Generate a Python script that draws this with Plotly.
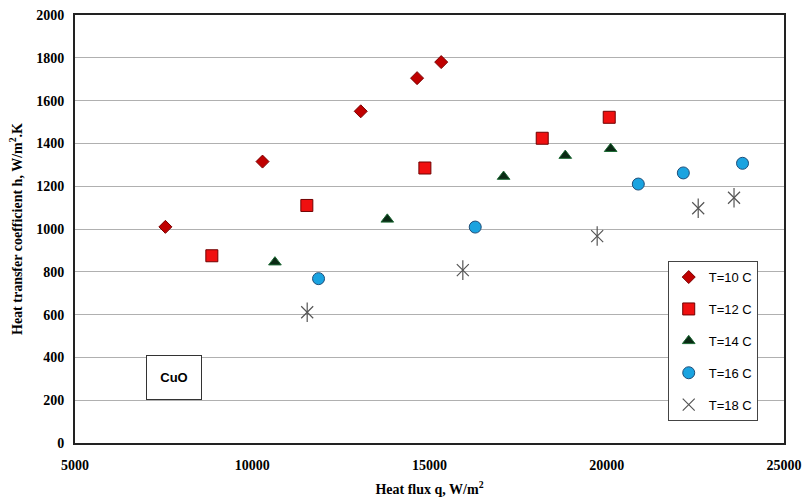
import plotly.graph_objects as go

# Data
q_t10 = [7550, 10290, 13060, 14650, 15330]
h_t10 = [1010, 1315, 1550, 1705, 1780]

q_t12 = [8860, 11540, 14870, 18180, 20070]
h_t12 = [875, 1110, 1285, 1424, 1522]

q_t14 = [10640, 13810, 17090, 18830, 20110]
h_t14 = [845, 1045, 1245, 1343, 1375]

q_t16 = [11870, 16290, 20890, 22160, 23830]
h_t16 = [768, 1009, 1210, 1262, 1307]

q_t18 = [11550, 15940, 19730, 22580, 23590]
h_t18 = [611, 808, 967, 1097, 1146]

labels = ["T=10 C", "T=12 C", "T=14 C", "T=16 C", "T=18 C"]
x_ticks = [5000, 10000, 15000, 20000, 25000]
y_ticks = [0, 200, 400, 600, 800, 1000, 1200, 1400, 1600, 1800, 2000]

fig = go.Figure()

fig.add_trace(go.Scatter(x=q_t10, y=h_t10, mode="markers", name=labels[0], legendgroup="g10",
                         marker=dict(symbol="diamond", size=10, color="#C00000",
                                     line=dict(color="#7a0000", width=1))))
fig.add_trace(go.Scatter(x=q_t12, y=h_t12, mode="markers", name=labels[1], legendgroup="g12",
                         marker=dict(symbol="square", size=12, color="#F01010",
                                     line=dict(color="#700000", width=1))))
fig.add_trace(go.Scatter(x=q_t14, y=h_t14, mode="markers", name=labels[2], legendgroup="g14",
                         marker=dict(symbol="triangle-up", size=11, color="#0a2a14",
                                     line=dict(color="#1e6b36", width=1))))
fig.add_trace(go.Scatter(x=q_t16, y=h_t16, mode="markers", name=labels[3], legendgroup="g16",
                         marker=dict(symbol="circle", size=12, color="#1AA3E0",
                                     line=dict(color="#1f4e79", width=1))))
fig.add_trace(go.Scatter(x=q_t18, y=h_t18, mode="markers", name=labels[4], legendgroup="g18",
                         marker=dict(symbol="x-thin-open", size=12, color="#555555",
                                     line=dict(color="#555555", width=1.2))))
fig.add_trace(go.Scatter(x=q_t18, y=h_t18, mode="markers", name=labels[4], legendgroup="g18",
                         showlegend=False, hoverinfo="skip",
                         marker=dict(symbol="line-ns-open", size=14, color="#555555",
                                     line=dict(color="#555555", width=1.2))))

fig.add_annotation(x=0.139, y=0.153, xref="paper", yref="paper", text="<b>CuO</b>",
                   showarrow=False, font=dict(family="Liberation Sans", size=13, color="black"),
                   bordercolor="#333333", borderwidth=1, bgcolor="white",
                   width=52, height=41, align="center", xanchor="center", yanchor="middle")

serif = "Liberation Serif"
fig.update_layout(
    width=803, height=500,
    margin=dict(l=75, r=19, t=15, b=57),
    paper_bgcolor="white", plot_bgcolor="white",
    showlegend=True,
    legend=dict(x=0.836, y=0.425, xanchor="left", yanchor="top",
                bgcolor="white", bordercolor="#444444", borderwidth=1,
                font=dict(family="Liberation Sans", size=13, color="black"),
                tracegroupgap=12, traceorder="grouped", itemwidth=30),
    xaxis=dict(range=[5000, 25000], tickvals=x_ticks, ticktext=[str(v) for v in x_ticks],
               showgrid=False, zeroline=False, showline=True, mirror=True, automargin=False,
               linecolor="#222222", linewidth=2, ticks="", ticklabelstandoff=8,
               ticklabeloverflow="allow",
               tickfont=dict(family=serif, size=14, color="black", weight="bold"),
               title=dict(text="Heat flux q, W/m<sup>2</sup>", standoff=12,
                          font=dict(family=serif, size=14, color="black", weight="bold"))),
    yaxis=dict(range=[0, 2000], tickvals=y_ticks, ticktext=[str(v) for v in y_ticks],
               showgrid=True, gridcolor="#b0b0b0", gridwidth=1, zeroline=False, automargin=False,
               showline=True, mirror=True, linecolor="#222222", linewidth=2,
               ticks="", ticklabelstandoff=6, ticklabeloverflow="allow",
               tickfont=dict(family=serif, size=14, color="black", weight="bold"),
               title=dict(text="Heat transfer coefficient h, W/m<sup>2</sup>.K", standoff=10,
                          font=dict(family=serif, size=14, color="black", weight="bold"))),
)

fig.write_html("out.html", config={"displayModeBar": False},
               post_script="document.body.style.margin='0';document.body.style.overflow='hidden';")
